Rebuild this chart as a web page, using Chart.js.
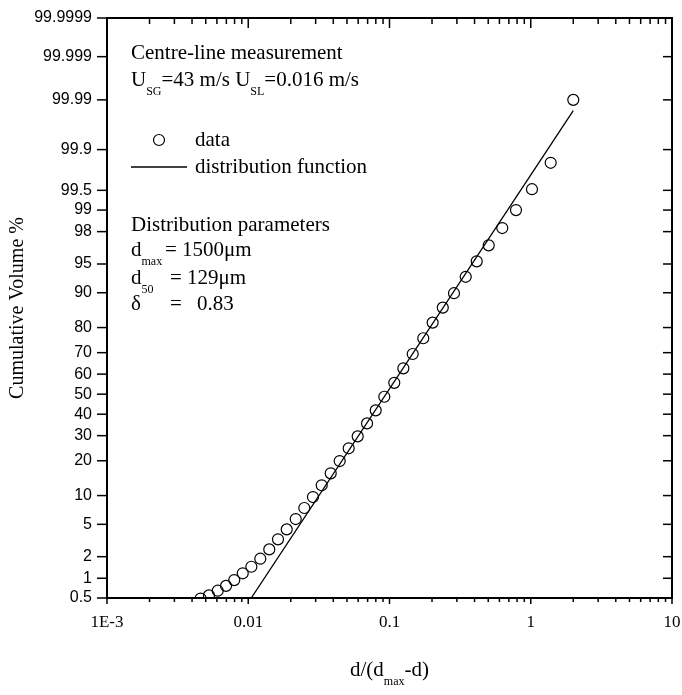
<!DOCTYPE html>
<html>
<head>
<meta charset="utf-8">
<script src="https://cdn.jsdelivr.net/npm/chart.js@4"></script>
<style>
    html, body { margin: 0; padding: 0; background: #fff; }
</style>
</head>
<body>
<canvas id="grafico" width="682" height="695"></canvas>
<script>
// valores
const razaoDiametro = [0.0046, 0.00527, 0.00608, 0.00696, 0.00796, 0.00914, 0.01052, 0.01217, 0.01409, 0.01624,
    0.01872, 0.02168, 0.02494, 0.02872, 0.03311, 0.03836, 0.0444, 0.0514, 0.05954, 0.06934,
    0.07986, 0.09188, 0.1081, 0.1253, 0.146, 0.1734, 0.202, 0.2384, 0.2861, 0.3464,
    0.4144, 0.5039, 0.6288, 0.7863, 1.02, 1.384, 2.001];
const volumeAcumulado = [0.49, 0.55, 0.65, 0.77, 0.94, 1.18, 1.46, 1.88, 2.49, 3.33,
    4.38, 5.73, 7.51, 9.68, 12.47, 15.86, 19.9, 24.7, 29.7, 35.6,
    41.9, 48.7, 55.7, 62.8, 69.4, 76.0, 81.7, 86.3, 89.9, 93.1,
    95.34, 97.0, 98.21, 99.0, 99.52, 99.827, 99.99];

// reta da funcao de distribuicao (extremos)
const retaX = [0.0105, 2.0];
const retaY = [0.5, 99.983];

const xTicks = [0.001, 0.01, 0.1, 1, 10];
const xTickLabels = ['1E-3', '0.01', '0.1', '1', '10'];
const yTicks = [0.5, 1, 2, 5, 10, 20, 30, 40, 50, 60, 70, 80, 90, 95, 98, 99, 99.5, 99.9, 99.99, 99.999, 99.9999];

// inversa da normal (escala de probabilidade)
function probit(p) {
    const a = [-3.969683028665376e+01, 2.209460984245205e+02, -2.759285104469687e+02, 1.383577518672690e+02, -3.066479806614716e+01, 2.506628277459239e+00];
    const b = [-5.447609879822406e+01, 1.615858368580409e+02, -1.556989798598866e+02, 6.680131188771972e+01, -1.328068155288572e+01];
    const c = [-7.784894002430293e-03, -3.223964580411365e-01, -2.400758277161838e+00, -2.549732539343734e+00, 4.374664141464968e+00, 2.938163982698783e+00];
    const d = [7.784695709041462e-03, 3.224671290700398e-01, 2.445134137142996e+00, 3.754408661907416e+00];
    let q, r;
    if (p < 0.02425) {
        q = Math.sqrt(-2 * Math.log(p));
        return (((((c[0] * q + c[1]) * q + c[2]) * q + c[3]) * q + c[4]) * q + c[5]) / ((((d[0] * q + d[1]) * q + d[2]) * q + d[3]) * q + 1);
    }
    if (p > 1 - 0.02425) {
        q = Math.sqrt(-2 * Math.log(1 - p));
        return -(((((c[0] * q + c[1]) * q + c[2]) * q + c[3]) * q + c[4]) * q + c[5]) / ((((d[0] * q + d[1]) * q + d[2]) * q + d[3]) * q + 1);
    }
    q = p - 0.5;
    r = q * q;
    return (((((a[0] * r + a[1]) * r + a[2]) * r + a[3]) * r + a[4]) * r + a[5]) * q / (((((b[0] * r + b[1]) * r + b[2]) * r + b[3]) * r + b[4]) * r + 1);
}

const pontos = razaoDiametro.map((v, i) => ({ x: v, y: probit(volumeAcumulado[i] / 100) }));
const reta = retaX.map((v, i) => ({ x: v, y: probit(retaY[i] / 100) }));

const serif = '"Liberation Serif", "Times New Roman", serif';
const tamTexto = 21;

function linha(ctx, x1, y1, x2, y2) {
    ctx.beginPath();
    ctx.moveTo(x1, y1);
    ctx.lineTo(x2, y2);
    ctx.stroke();
}

// escreve texto com partes subscritas: [[texto, subscrito]]
function escreve(ctx, partes, x, yBase) {
    partes.forEach(([t, sub]) => {
        ctx.font = sub ? '12px ' + serif : tamTexto + 'px ' + serif;
        ctx.fillText(t, x, sub ? yBase + 9 : yBase);
        x += ctx.measureText(t).width;
    });
    return x;
}

const moldura = {
    id: 'moldura',
    beforeDraw(chart) {
        const ctx = chart.ctx;
        ctx.save();
        ctx.fillStyle = '#fff';
        ctx.fillRect(0, 0, chart.width, chart.height);
        ctx.restore();
    },
    afterDraw(chart) {
        const { ctx, chartArea: a, scales: { x, y } } = chart;
        ctx.save();
        ctx.strokeStyle = '#000';
        ctx.fillStyle = '#000';

        ctx.lineWidth = 1.5;
        yTicks.forEach(v => {
            const py = y.getPixelForValue(probit(v / 100));
            linha(ctx, a.left - 10, py, a.left, py);
            linha(ctx, a.right - 9, py, a.right, py);
        });
        xTicks.forEach((dec, i) => {
            const px = x.getPixelForValue(dec);
            linha(ctx, px, a.bottom, px, a.bottom + 6);
            linha(ctx, px, a.top, px, a.top + 10);
            if (i < xTicks.length - 1) {
                for (let m = 2; m <= 9; m++) {
                    const pm = x.getPixelForValue(dec * m);
                    linha(ctx, pm, a.bottom, pm, a.bottom + 4);
                    linha(ctx, pm, a.top, pm, a.top + 6);
                }
            }
        });
        ctx.lineWidth = 2;
        ctx.strokeRect(a.left, a.top, a.right - a.left, a.bottom - a.top);

        // textos dentro do grafico
        ctx.textAlign = 'left';
        ctx.textBaseline = 'alphabetic';
        escreve(ctx, [['Centre-line measurement']], 131, 59);
        escreve(ctx, [['U'], ['SG', 1], ['=43 m/s U'], ['SL', 1], ['=0.016 m/s']], 131, 86);

        ctx.lineWidth = 1.2;
        ctx.beginPath();
        ctx.arc(159, 140, 5.5, 0, Math.PI * 2);
        ctx.stroke();
        escreve(ctx, [['data']], 195, 146);
        ctx.lineWidth = 1.3;
        linha(ctx, 131, 167, 187, 167);
        escreve(ctx, [['distribution function']], 195, 173);

        escreve(ctx, [['Distribution parameters']], 131, 231);
        escreve(ctx, [['d'], ['max', 1]], 131, 256);
        escreve(ctx, [['= 1500μm']], 165, 256);
        escreve(ctx, [['d'], ['50', 1]], 131, 284);
        escreve(ctx, [['= 129μm']], 170, 284);
        escreve(ctx, [['δ']], 131, 310);
        escreve(ctx, [['=']], 170, 310);
        escreve(ctx, [['0.83']], 197, 310);

        // titulo do eixo x
        const partesX = [['d/(d'], ['max', 1], ['-d)']];
        let larg = 0;
        partesX.forEach(([t, sub]) => {
            ctx.font = sub ? '12px ' + serif : tamTexto + 'px ' + serif;
            larg += ctx.measureText(t).width;
        });
        escreve(ctx, partesX, (a.left + a.right) / 2 - larg / 2, 676);

        // titulo do eixo y
        ctx.translate(18, (a.top + a.bottom) / 2);
        ctx.rotate(-Math.PI / 2);
        ctx.font = '20px ' + serif;
        ctx.textAlign = 'center';
        ctx.textBaseline = 'middle';
        ctx.fillText('Cumulative Volume %', 0, 0);
        ctx.restore();
    }
};

const ctx = document.getElementById('grafico').getContext('2d');
const chart = new Chart(ctx, {
    type: 'scatter',
    data: {
        datasets: [{
            label: 'data',
            data: pontos,
            showLine: false,
            pointRadius: 5.5,
            pointHoverRadius: 5.5,
            pointBorderColor: '#000',
            pointBackgroundColor: 'rgba(0,0,0,0)',
            pointBorderWidth: 1.2
        },
        {
            label: 'distribution function',
            data: reta,
            showLine: true,
            borderColor: '#000',
            borderWidth: 1.3,
            pointRadius: 0
        }]
    },
    options: {
        responsive: false,
        animation: false,
        devicePixelRatio: 1,
        layout: { padding: { top: 18, right: 10, left: 0, bottom: 0 } },
        plugins: { legend: { display: false }, tooltip: { enabled: false } },
        scales: {
            x: {
                type: 'logarithmic',
                min: 0.001,
                max: 10,
                grid: { display: false, drawTicks: false },
                border: { display: false },
                afterBuildTicks: s => { s.ticks = xTicks.map(v => ({ value: v })); },
                afterFit: s => { s.height = 97; s.paddingLeft = 0; s.paddingRight = 0; },
                ticks: {
                    autoSkip: false,
                    maxRotation: 0,
                    padding: 14,
                    color: '#000',
                    font: { family: serif, size: 17 },
                    callback: (v, i) => xTickLabels[i]
                }
            },
            y: {
                type: 'linear',
                min: probit(yTicks[0] / 100),
                max: probit(yTicks[yTicks.length - 1] / 100),
                grid: { display: false, drawTicks: false },
                border: { display: false },
                afterBuildTicks: s => { s.ticks = yTicks.map(v => ({ value: probit(v / 100) })); },
                afterFit: s => { s.width = 107; s.paddingTop = 0; s.paddingBottom = 0; },
                ticks: {
                    autoSkip: false,
                    padding: 15,
                    color: '#000',
                    font: { family: '"Liberation Sans", Arial, sans-serif', size: 16 },
                    callback: (v, i) => String(yTicks[i])
                }
            }
        }
    },
    plugins: [moldura]
});
</script>
</body>
</html>
